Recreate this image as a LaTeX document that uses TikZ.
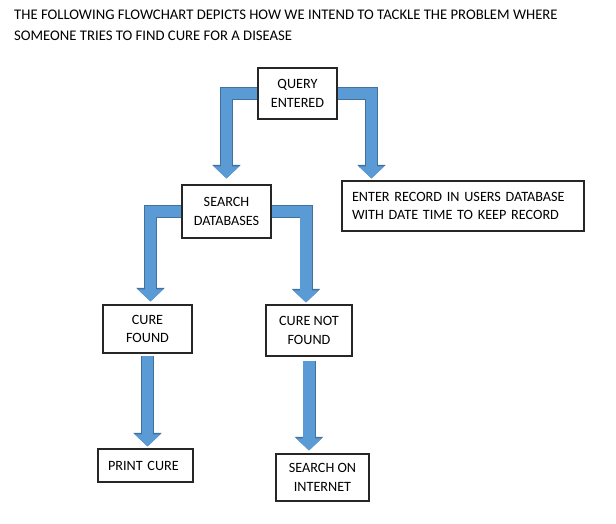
\documentclass[tikz,border=0pt]{standalone}
\usepackage{fontspec}
\setmainfont{Carlito}
\usepackage{xcolor}
\usetikzlibrary{arrows.meta}
\definecolor{arrowblue}{HTML}{5B9BD5}
\definecolor{arrowedge}{HTML}{41719C}

\begin{document}
\begin{tikzpicture}[x=1pt,y=-1pt,
		box/.style={draw=black!85, line width=1.1pt, fill=white, align=center, inner sep=2pt,
			font=\fontsize{14.2}{18.5}\selectfont},
		leftbox/.style={box, align=left, inner xsep=10pt},
		flow/.style={line width=11.5pt, draw=arrowblue, -{Triangle[length=12pt,width=25pt]},
			preaction={draw=arrowedge, line width=13pt, -{Triangle[length=13.5pt,width=27.5pt]}}}]
		\useasboundingbox (0,0) rectangle (616,524);
		\node[anchor=north west, align=left, inner sep=0, font=\fontsize{14.7}{20.5}\selectfont] (title) at (14,10)
			{THE FOLLOWING FLOWCHART DEPICTS HOW WE INTEND TO TACKLE THE PROBLEM WHERE\\
			SOMEONE TRIES TO FIND CURE FOR A DISEASE};
		
		\node[box, minimum width=79pt, minimum height=51pt] (query) at (297.5,93.5) {QUERY\\ENTERED};
		\node[box, minimum width=89pt, minimum height=53pt] (search) at (226.5,211.5) {SEARCH\\DATABASES};
		\node[leftbox, text width=222pt, minimum height=50pt] (record) at (463,206)
			{ENTER RECORD IN USERS DATABASE\\WITH DATE TIME TO KEEP RECORD};
		\node[box, minimum width=89pt, minimum height=48pt] (found) at (147.5,329) {CURE\\FOUND};
		\node[box, minimum width=86pt, minimum height=51pt] (notfound) at (309,330.5) {CURE NOT\\FOUND};
		\node[leftbox, text width=75pt, minimum height=33pt] (print) at (145.5,465.5) {PRINT CURE};
		\node[box, minimum width=93pt, minimum height=47pt] (internet) at (322.5,477.5) {SEARCH ON\\INTERNET};
		
		\draw[flow, shorten >=6pt] (query.west) -| (search.north);
		\draw[flow, shorten >=2pt] (query.east) -| ([xshift=30pt]record.north west);
		\draw[flow, shorten >=3pt] (search.west) -| ([xshift=3pt]found.north);
		\draw[flow, shorten >=2pt] (search.east) -| ([xshift=-3pt]notfound.north);
		\draw[flow, shorten <=2pt, shorten >=2pt] (found.south) -- (found.south |- print.north);
		\draw[flow, shorten <=4pt, shorten >=3pt] (notfound.south) -- (notfound.south |- internet.north);
	\end{tikzpicture}
\end{document}
